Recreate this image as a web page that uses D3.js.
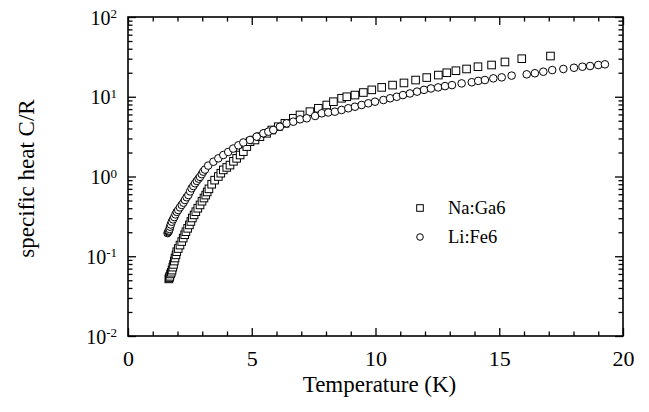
<!DOCTYPE html>
<html>
<head>
<meta charset="utf-8">
<script src="https://cdn.jsdelivr.net/npm/d3@7/dist/d3.min.js"></script>
<style>
  html, body { margin: 0; padding: 0; background: #fff; }
  svg { display: block; }
  text { font-family: "Liberation Serif", "Times New Roman", serif; fill: #000; }
</style>
</head>
<body>
<svg id="chart" width="649" height="412"></svg>
<script>
// ---- data ----
const naGa6T = [1.65,1.67,1.69,1.72,1.75,1.78,1.81,1.84,1.87,1.90,1.94,1.97,2.03,2.10,2.17,2.23,2.29,2.34,2.41,2.48,2.54,2.60,2.67,2.74,2.82,2.91,2.99,3.07,3.14,3.20,3.27,3.38,3.50,3.65,3.75,3.85,3.99,4.12,4.26,4.39,4.53,4.66,4.80,4.93,5.13,5.33,5.60,5.81,6.07,6.34,6.68,6.95,7.35,7.69,8.03,8.30,8.63,8.84,9.17,9.51,9.85,10.25,10.69,11.15,11.62,12.07,12.54,12.88,13.25,13.68,14.14,14.69,15.23,15.91,17.07];
const naGa6C = [0.052,0.054,0.056,0.060,0.063,0.067,0.073,0.079,0.087,0.095,0.104,0.114,0.125,0.138,0.153,0.169,0.186,0.203,0.224,0.247,0.273,0.302,0.330,0.362,0.400,0.440,0.490,0.537,0.585,0.640,0.700,0.800,0.900,1.00,1.10,1.21,1.30,1.39,1.55,1.69,1.86,2.05,2.37,2.73,2.87,3.16,3.48,3.83,4.21,4.64,5.37,5.91,6.50,7.17,7.88,8.67,9.57,10.0,10.5,11.3,12.2,13.1,14.0,14.9,16.2,17.4,18.7,20.0,21.2,22.3,23.8,25.0,27.3,30.0,32.4];

const liFe6T = [1.60,1.62,1.64,1.66,1.68,1.70,1.73,1.77,1.82,1.87,1.92,1.97,2.03,2.10,2.17,2.24,2.30,2.37,2.44,2.51,2.57,2.64,2.71,2.78,2.85,2.91,2.98,3.04,3.11,3.24,3.45,3.65,3.85,4.05,4.25,4.46,4.66,4.93,5.20,5.47,5.67,5.87,6.14,6.41,6.68,6.95,7.22,7.56,7.83,8.09,8.36,8.63,8.90,9.17,9.44,9.71,9.98,10.32,10.59,10.86,11.11,11.39,11.68,11.96,12.24,12.53,12.81,13.09,13.48,13.89,14.15,14.42,14.76,15.10,15.50,16.11,16.44,16.78,17.14,17.59,18.02,18.36,18.67,19.00,19.27];
const liFe6C = [0.195,0.200,0.205,0.210,0.220,0.235,0.250,0.271,0.290,0.310,0.335,0.360,0.380,0.410,0.440,0.470,0.507,0.550,0.586,0.650,0.711,0.760,0.822,0.880,0.940,0.990,1.07,1.15,1.22,1.37,1.53,1.69,1.86,2.03,2.24,2.46,2.67,2.87,3.16,3.48,3.65,3.83,4.21,4.64,4.87,5.21,5.37,5.74,6.20,6.35,6.50,6.83,7.17,7.50,7.88,8.28,8.67,9.10,9.57,10.0,10.5,11.0,11.6,12.2,12.7,13.1,13.6,14.0,14.7,15.2,15.8,16.2,17.0,17.5,18.4,19.1,19.7,20.6,21.6,22.3,23.1,23.8,24.3,25.0,25.5];

const xMajorTicks = [0, 5, 10, 15, 20];
const xMinorTicks = [1,2,3,4,6,7,8,9,11,12,13,14,16,17,18,19];
const yMajorExps = [-2, -1, 0, 1, 2];
const seriesNames = ["Na:Ga6", "Li:Fe6"];
const xTitle = "Temperature (K)";
const yTitle = "specific heat C/R";

// ---- layout ----
const svg = d3.select("#chart");
const L = 128, R = 623, T = 17, B = 336;
const x = d3.scaleLinear().domain([0, 20]).range([L, R]);
const y = d3.scaleLog().domain([0.01, 100]).range([B, T]);

const yMajor = yMajorExps.map(e => Math.pow(10, e));
const yMinor = [];
for (let e = -2; e < 2; e++) for (let k = 2; k <= 9; k++) yMinor.push(k * Math.pow(10, e));

function styleAxis(g) {
  g.select(".domain").remove();
  g.selectAll(".tick line").attr("stroke", "#000").attr("stroke-width", 1.3);
}

// minor ticks
svg.append("g").attr("transform", `translate(0,${B})`)
  .call(d3.axisBottom(x).tickValues(xMinorTicks).tickSize(-4.5).tickFormat(""))
  .call(styleAxis);
svg.append("g").attr("transform", `translate(0,${T})`)
  .call(d3.axisTop(x).tickValues(xMinorTicks).tickSize(-4.5).tickFormat(""))
  .call(styleAxis);
svg.append("g").attr("transform", `translate(${L},0)`)
  .call(d3.axisLeft(y).tickValues(yMinor).tickSize(-4.5).tickFormat(""))
  .call(styleAxis);
svg.append("g").attr("transform", `translate(${R},0)`)
  .call(d3.axisRight(y).tickValues(yMinor).tickSize(-4.5).tickFormat(""))
  .call(styleAxis);

// major ticks
const xb = svg.append("g").attr("transform", `translate(0,${B})`)
  .call(d3.axisBottom(x).tickValues(xMajorTicks).tickSize(-8).tickPadding(14).tickFormat(d3.format("d")))
  .call(styleAxis);
xb.selectAll("text").attr("font-size", 22).attr("font-family", "Liberation Serif").attr("dy", "0.71em");
svg.append("g").attr("transform", `translate(0,${T})`)
  .call(d3.axisTop(x).tickValues(xMajorTicks).tickSize(-8).tickFormat(""))
  .call(styleAxis);
const yl = svg.append("g").attr("transform", `translate(${L},0)`)
  .call(d3.axisLeft(y).tickValues(yMajor).tickSize(-8).tickPadding(20).tickFormat(""))
  .call(styleAxis);
svg.append("g").attr("transform", `translate(${R},0)`)
  .call(d3.axisRight(y).tickValues(yMajor).tickSize(-8).tickFormat(""))
  .call(styleAxis);

// y labels with superscript exponents
yl.selectAll(".tick").each(function(d) {
  const g = d3.select(this);
  g.select("text").remove();
  const e = Math.round(Math.log10(d));
  const t = g.append("text")
    .attr("x", -11).attr("y", 0).attr("dy", "0.35em")
    .attr("text-anchor", "end").attr("font-size", 20)
    .attr("font-family", "Liberation Serif").attr("fill", "#000");
  t.append("tspan").text("10");
  t.append("tspan").attr("dy", "-0.5em").attr("font-size", 13).text(String(e).replace("-", "-"));
});

// frame
svg.append("rect").attr("x", L).attr("y", T).attr("width", R - L).attr("height", B - T)
  .attr("fill", "none").attr("stroke", "#000").attr("stroke-width", 1.6);

// data
const sq = 7.6;
svg.append("g").selectAll("rect").data(naGa6T.map((t, i) => [t, naGa6C[i]])).join("rect")
  .attr("x", d => x(d[0]) - sq / 2).attr("y", d => y(d[1]) - sq / 2)
  .attr("width", sq).attr("height", sq)
  .attr("fill", "#fff").attr("stroke", "#000").attr("stroke-width", 1);
svg.append("g").selectAll("circle").data(liFe6T.map((t, i) => [t, liFe6C[i]])).join("circle")
  .attr("cx", d => x(d[0])).attr("cy", d => y(d[1])).attr("r", 3.8)
  .attr("fill", "#fff").attr("stroke", "#000").attr("stroke-width", 1);

// legend
const lg = svg.append("g");
lg.append("rect").attr("x", 420 - 3.3).attr("y", 208 - 3.3).attr("width", 6.6).attr("height", 6.6)
  .attr("fill", "#fff").attr("stroke", "#000").attr("stroke-width", 1);
lg.append("circle").attr("cx", 420).attr("cy", 237).attr("r", 3.3)
  .attr("fill", "#fff").attr("stroke", "#000").attr("stroke-width", 1);
lg.append("text").attr("x", 448).attr("y", 214).attr("font-size", 18.5).text(seriesNames[0]);
lg.append("text").attr("x", 448).attr("y", 243).attr("font-size", 18.5).text(seriesNames[1]);

// axis titles
svg.append("text").attr("x", (L + R) / 2 + 4).attr("y", 392).attr("text-anchor", "middle")
  .attr("font-size", 23).text(xTitle);
svg.append("text").attr("transform", `translate(34,${(T + B) / 2 + 2}) rotate(-90)`)
  .attr("text-anchor", "middle").attr("font-size", 23).text(yTitle);
</script>
</body>
</html>
